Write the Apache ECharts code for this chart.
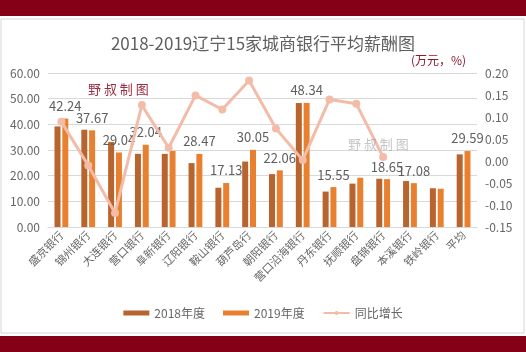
<!DOCTYPE html>
<html><head><meta charset="utf-8">
<script src="https://cdn.jsdelivr.net/npm/echarts@6/dist/echarts.min.js"></script>
<style>html,body{margin:0;padding:0;background:#fff;}#c{width:526px;height:352px;}</style>
</head><body><div id="c"></div>
<script>
var categories = ['盛京银行','锦州银行','大连银行','营口银行','阜新银行','辽阳银行','鞍山银行','葫芦岛行','朝阳银行','营口沿海银行','丹东银行','抚顺银行','盘锦银行','本溪银行','铁岭银行','平均'];
var pay2018 = [39.2, 37.9, 33.1, 28.5, 28.5, 24.9, 15.3, 25.5, 20.6, 48.3, 13.8, 16.9, 18.8, 17.9, 15.1, 28.3];
var pay2019 = [42.24, 37.67, 29.04, 32.04, 29.6, 28.47, 17.13, 30.05, 22.06, 48.34, 15.55, 19.2, 18.65, 17.08, 14.9, 29.59];
var showLabel = [1,1,1,1,0,1,1,1,1,1,1,0,1,1,0,1];
var growth = [0.089, -0.01, -0.118, 0.127, 0.030, 0.149, 0.117, 0.183, 0.074, 0.002, 0.140, 0.130, 0.009, null, null, null];
var leftTicks = {min: 0, max: 60, interval: 10};
var rightTicks = {min: -0.15, max: 0.20, interval: 0.05};

var FONT = 'Noto Sans CJK SC';
var chart = echarts.init(document.getElementById('c'));
chart.setOption({
  backgroundColor: '#fff',
  textStyle: {fontFamily: FONT},
  animation: false,
  title: {
    text: '2018-2019辽宁15家城商银行平均薪酬图',
    left: 'center', top: 30,
    textStyle: {color: '#5f5f5f', fontSize: 17, fontWeight: 'normal', fontFamily: FONT}
  },
  graphic: [
    {type: 'rect', shape: {x: 0, y: 0, width: 526, height: 16}, style: {fill: '#850017'}},
    {type: 'rect', shape: {x: 1, y: 19, width: 523, height: 314}, style: {fill: 'none', stroke: '#d6d6d6', lineWidth: 1}},
    {type: 'rect', shape: {x: 0, y: 336, width: 526, height: 16}, style: {fill: '#850017'}},
    {type: 'text', left: 411, top: 54, style: {text: '(万元，%)', fill: '#8B1A2B', fontSize: 12, fontFamily: FONT}},
    {type: 'text', left: 88, top: 83, z: 100, style: {text: '野 叔 制 图', fill: '#9B2D43', fontSize: 13, fontFamily: FONT}},
    {type: 'text', left: 348, top: 138, z: 100, style: {text: '野 叔 制 图', fill: 'rgba(150,150,150,0.55)', fontSize: 13, fontFamily: FONT}}
  ],
  legend: {
    bottom: 28, left: 'center', itemGap: 18,
    itemWidth: 26, itemHeight: 5,
    textStyle: {color: '#666', fontSize: 12, fontFamily: FONT},
    data: [{name: '2018年度', icon: 'rect'}, {name: '2019年度', icon: 'rect'}, {name: '同比增长'}]
  },
  grid: {left: 48, right: 49, top: 73, bottom: 125},
  xAxis: {
    type: 'category', data: categories,
    axisLine: {lineStyle: {color: '#d9d9d9'}},
    axisTick: {show: false},
    axisLabel: {rotate: 45, color: '#666', fontSize: 11, interval: 0, margin: 6, fontFamily: FONT}
  },
  yAxis: [
    {type: 'value', min: leftTicks.min, max: leftTicks.max, interval: leftTicks.interval,
     axisLine: {show: false}, axisTick: {show: false},
     splitLine: {lineStyle: {color: '#d9d9d9'}},
     axisLabel: {color: '#666', fontSize: 12, formatter: function(v){return v.toFixed(2);}, fontFamily: FONT}},
    {type: 'value', min: rightTicks.min, max: rightTicks.max, interval: rightTicks.interval,
     axisLine: {show: false}, axisTick: {show: false}, splitLine: {show: false},
     axisLabel: {color: '#666', fontSize: 12, formatter: function(v){return v.toFixed(2);}, fontFamily: FONT}}
  ],
  series: [
    {name: '2018年度', type: 'bar', data: pay2018, barWidth: 6, barGap: '30%',
     itemStyle: {color: '#B8642E'}},
    {name: '2019年度', type: 'bar', data: pay2019.map(function(v, i){
        return {value: v, label: {show: !!showLabel[i]}};
      }), barWidth: 6,
     itemStyle: {color: '#E8802F'},
     label: {position: 'top', distance: 6, color: '#5f5f5f', fontSize: 13, fontFamily: FONT,
       formatter: function(p){return p.value.toFixed(2);}}},
    {name: '同比增长', type: 'line', yAxisIndex: 1, data: growth, z: 5,
     symbol: 'circle', symbolSize: 8, connectNulls: false,
     lineStyle: {color: '#F3BCA8', width: 3},
     itemStyle: {color: '#F3BCA8'}}
  ]
});
</script></body></html>
